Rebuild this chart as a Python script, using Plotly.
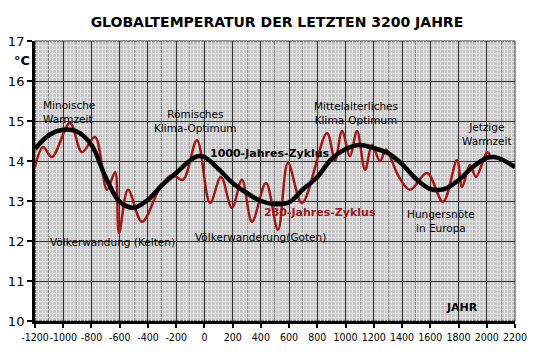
import plotly.graph_objects as go

# 1000-Jahres-Zyklus (black)
cyc1000_years = [-1200, -1100, -1000, -900, -800, -700, -600, -500, -400, -300, -200, -100, -50, 0,
                 100, 200, 300, 400, 500, 600, 700, 800, 900, 1000, 1100, 1200, 1300, 1400,
                 1500, 1600, 1700, 1800, 1900, 2000, 2050, 2100, 2200]
cyc1000_temp = [14.3, 14.65, 14.78, 14.73, 14.4, 13.6, 12.98, 12.83, 13.03, 13.4, 13.7, 14.02, 14.12, 14.1,
                13.8, 13.45, 13.2, 13.0, 12.92, 12.97, 13.3, 13.6, 14.05, 14.3, 14.4, 14.32, 14.2, 13.92,
                13.55, 13.3, 13.3, 13.52, 13.85, 14.08, 14.1, 14.05, 13.85]

# 230-Jahres-Zyklus (red)
cyc230_years = [-1200, -1143, -1080, -952, -867, -775, -690, -633, -605, -541, -442, -315, -230, -152,
                -53, 40, 117, 195, 266, 337, 436, 521, 592, 691, 868, 925, 975, 1031, 1081, 1138,
                1187, 1244, 1286, 1371, 1456, 1577, 1690, 1789, 1825, 1881, 1924, 2002, 2023]
cyc230_temp = [13.85, 14.35, 14.1, 14.95, 14.22, 14.6, 13.28, 13.72, 12.2, 13.28, 12.48, 13.33, 13.65, 13.53,
               14.52, 12.95, 13.6, 12.83, 13.53, 12.48, 13.45, 12.28, 13.95, 12.95, 14.7, 14.02, 14.75, 14.12, 14.75, 13.78,
               14.4, 14.0, 14.28, 13.65, 13.28, 13.7, 12.98, 14.02, 13.35, 13.9, 13.6, 14.22, 14.15]

x_ticks = list(range(-1200, 2201, 200))
x_grid_extra = list(range(-1100, 2200, 200))
y_ticks = list(range(10, 18))

FONT = "DejaVu Sans"
RED = "#a01818"
GRID = "#303030"

fig = go.Figure()
fig.add_trace(go.Scatter(x=cyc230_years, y=cyc230_temp, mode="lines",
                         line=dict(color=RED, width=2.5, shape="spline", smoothing=1.0),
                         hoverinfo="skip"))
fig.add_trace(go.Scatter(x=cyc1000_years, y=cyc1000_temp, mode="lines",
                         line=dict(color="black", width=4.5, shape="spline", smoothing=1.0),
                         hoverinfo="skip"))

# extra dark vertical grid lines at odd hundreds
for gx in x_grid_extra:
    fig.add_shape(type="line", xref="x", yref="paper", x0=gx, x1=gx, y0=0, y1=1,
                  line=dict(color=GRID, width=1), layer="between")

labels = [
    ("Minoische<br>Warmzeit", -1157, 15.22, "left", False, "black"),
    ("Römisches<br>Klima-Optimum", -63, 14.99, "center", False, "black"),
    ("Mittelalterliches<br>Klima-Optimum", 1074, 15.21, "center", False, "black"),
    ("Jetzige<br>Warmzeit", 2003, 14.67, "center", False, "black"),
    ("<b>1000-Jahres-Zyklus</b>", 25, 14.2, "left", True, "black"),
    ("<b>230-Jahres-Zyklus</b>", 408, 12.725, "left", True, RED),
    ("Völkerwandung (Kelten)", -1108, 11.975, "left", False, "black"),
    ("Völkerwanderung(Goten)", -81, 12.1, "left", False, "black"),
    ("Hungersnöte<br>in Europa", 1676, 12.5, "center", False, "black"),
    ("<b>JAHR</b>", 1825, 10.35, "center", True, "black"),
]
for txt, xx, yy, anch, bold, col in labels:
    fig.add_annotation(x=xx, y=yy, xref="x", yref="y", text=txt,
                       showarrow=False, xanchor=anch, yanchor="middle", align="center" if anch == "center" else "left",
                       font=dict(family=FONT, size=11 if bold else 10.5, color=col))

fig.add_annotation(x=-0.027, y=0.932, xref="paper", yref="paper", text="<b>°C</b>",
                   showarrow=False, xanchor="center", yanchor="middle",
                   font=dict(family=FONT, size=13, color="black"))

# plot frame
fig.add_shape(type="rect", xref="paper", yref="paper", x0=0, y0=0, x1=1, y1=1,
              line=dict(color="#333333", width=1), layer="between")

# the page body adds an 8px offset; margins compensate so the plot lands where the reference has it
fig.update_layout(
    width=540, height=364,
    margin=dict(l=27, r=33, t=33, b=51, autoexpand=False),
    paper_bgcolor="white",
    plot_bgcolor="#c6c6c6",
    showlegend=False,
    title=dict(text="<b>GLOBALTEMPERATUR DER LETZTEN 3200 JAHRE</b>", x=0.498, y=0.961,
               xanchor="center", yanchor="middle",
               font=dict(family=FONT, size=14, color="black")),
    xaxis=dict(range=[-1200, 2200], tickmode="array", tickvals=x_ticks,
               ticktext=[str(v) for v in x_ticks], tickangle=0, automargin=False,
               showgrid=True, gridcolor=GRID, gridwidth=1,
               minor=dict(dtick=25, tick0=-1200, showgrid=True, gridcolor="#e2e2e2", gridwidth=1),
               showline=True, linecolor="black", linewidth=3,
               ticks="outside", ticklen=4, tickwidth=2, tickcolor="black",
               tickfont=dict(family="DejaVu Sans Condensed, DejaVu Sans", size=10.5, color="black"),
               zeroline=False),
    yaxis=dict(range=[10, 17], tickvals=y_ticks, automargin=False,
               showgrid=True, gridcolor=GRID, gridwidth=1,
               minor=dict(dtick=0.1, showgrid=True, gridcolor="#e2e2e2", gridwidth=1),
               showline=True, linecolor="black", linewidth=3,
               ticks="outside", ticklen=5, tickwidth=2, tickcolor="black",
               tickfont=dict(family=FONT, size=13, color="black"), zeroline=False),
)

fig.write_html("out.html", config={"displayModeBar": False})
